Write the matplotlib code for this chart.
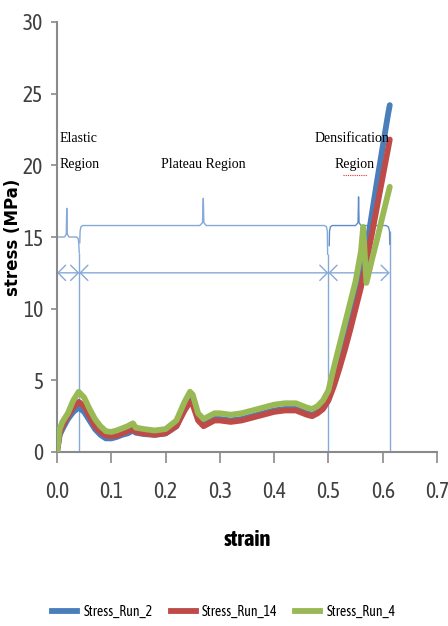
import matplotlib
matplotlib.use("Agg")
import matplotlib.pyplot as plt
from matplotlib.lines import Line2D

# ---------------- data ----------------
strain = [0.0, 0.005, 0.01, 0.02, 0.03, 0.04, 0.05, 0.06, 0.07, 0.08, 0.09, 0.10,
          0.11, 0.12, 0.13, 0.14, 0.145, 0.16, 0.18, 0.20, 0.22, 0.235, 0.245, 0.25,
          0.26, 0.27, 0.28, 0.29, 0.30, 0.32, 0.34, 0.36, 0.38, 0.40, 0.42, 0.44,
          0.46, 0.47, 0.48, 0.49, 0.50]
stress_run_2_plateau = [0.0, 1.2, 1.6, 2.3, 2.8, 3.1, 2.8, 2.2, 1.6, 1.2, 0.95, 0.95,
                        1.05, 1.2, 1.3, 1.5, 1.35, 1.25, 1.2, 1.3, 1.8, 3.0, 3.8, 3.6,
                        2.3, 1.9, 2.1, 2.3, 2.3, 2.2, 2.3, 2.5, 2.7, 2.9, 3.0, 3.0,
                        2.7, 2.6, 2.8, 3.2, 4.0]
stress_run_14_plateau = [0.0, 1.3, 1.8, 2.5, 3.1, 3.5, 3.2, 2.5, 1.8, 1.4, 1.15, 1.1,
                         1.15, 1.3, 1.45, 1.6, 1.4, 1.3, 1.2, 1.3, 1.8, 2.9, 3.5, 3.3,
                         2.2, 1.8, 2.0, 2.2, 2.2, 2.1, 2.2, 2.4, 2.6, 2.8, 2.9, 2.9,
                         2.6, 2.5, 2.7, 3.0, 3.6]
stress_run_4_plateau = [0.0, 1.6, 2.1, 2.7, 3.6, 4.2, 3.8, 3.0, 2.3, 1.8, 1.45, 1.4,
                        1.5, 1.65, 1.8, 2.0, 1.7, 1.6, 1.5, 1.6, 2.2, 3.5, 4.2, 4.0,
                        2.7, 2.3, 2.5, 2.7, 2.7, 2.6, 2.7, 2.9, 3.1, 3.3, 3.4, 3.4,
                        3.1, 3.0, 3.2, 3.6, 4.3]

dens_strain = [0.51, 0.52, 0.53, 0.54, 0.55, 0.56, 0.57, 0.58, 0.59, 0.60, 0.61, 0.613]
stress_run_2_dens = [5.2, 6.5, 8.0, 9.5, 10.8, 12.1, 14.2, 16.6, 19.0, 21.3, 23.6, 24.2]
stress_run_14_dens = [4.6, 5.8, 7.1, 8.5, 10.0, 11.5, 13.3, 15.2, 17.2, 19.2, 21.2, 21.8]
dens_strain_4 = [0.51, 0.52, 0.53, 0.54, 0.55, 0.56, 0.564, 0.570, 0.58, 0.59, 0.60, 0.613]
stress_run_4_dens = [5.9, 7.4, 8.9, 10.4, 11.9, 14.0, 15.7, 11.8, 13.4, 14.9, 16.5, 18.5]

series_names = ["Stress_Run_2", "Stress_Run_14", "Stress_Run_4"]
series_colors = ["#4a7ebb", "#be4b48", "#98b954"]

x_ticks = [0.0, 0.1, 0.2, 0.3, 0.4, 0.5, 0.6, 0.7]
y_ticks = [0, 5, 10, 15, 20, 25, 30]

# region boundaries (annotation)
region_bounds = [0.041, 0.5, 0.613]

# ---------------- figure ----------------
cond = ["Asap Condensed", "DejaVu Sans"]
fig = plt.figure(figsize=(4.48, 6.26), dpi=100)
ax = fig.add_axes([57 / 448, 1 - 452 / 626, 380 / 448, 430 / 626])

xs = [strain + dens_strain, strain + dens_strain, strain + dens_strain_4]
ys = [stress_run_2_plateau + stress_run_2_dens,
      stress_run_14_plateau + stress_run_14_dens,
      stress_run_4_plateau + stress_run_4_dens]
for x, y, c in zip(xs, ys, series_colors):
    ax.plot(x, y, color=c, lw=4.2, solid_capstyle="round", solid_joinstyle="round", zorder=3)

ax.set_xlim(0, 0.7)
ax.set_ylim(0, 30)
ax.set_xticks(x_ticks)
ax.set_xticklabels([f"{v:.1f}" for v in x_ticks], fontsize=15.5, color="#404040", family=cond)
ax.set_yticks(y_ticks)
ax.set_yticklabels([str(v) for v in y_ticks], fontsize=15.5, color="#404040", family=cond)
ax.tick_params(axis="x", direction="out", length=8, width=1.2, color="#8a8a8a", pad=13)
ax.tick_params(axis="y", direction="out", length=4, width=1.2, color="#8a8a8a", pad=6)
for s in ["top", "right"]:
    ax.spines[s].set_visible(False)
for s in ["left", "bottom"]:
    ax.spines[s].set_color("#8a8a8a")
    ax.spines[s].set_linewidth(1.5)

ax.set_xlabel("strain", fontweight="bold", fontsize=16, family=cond)
ax.xaxis.set_label_coords(0.5, -0.18)
ax.set_ylabel("stress (MPa)", fontweight="bold", fontsize=12)
ax.yaxis.set_label_coords(-0.092, 0.5)

# ---------------- annotations ----------------
ac = "#86a9d6"
ax.vlines(region_bounds, 0, [13.9, 13.8, 15.4], color=ac, lw=1.0, zorder=2)

elastic_brace = ([0.0, 0.014, 0.017, 0.018, 0.019, 0.022, 0.036, 0.039, 0.040, 0.041],
                 [15.0, 15.0, 15.2, 17.0, 15.2, 15.0, 15.0, 14.9, 14.6, 13.9])
plateau_brace = ([0.042, 0.0425, 0.044, 0.047, 0.263, 0.268, 0.2695, 0.2705, 0.275, 0.493, 0.4965, 0.498, 0.4985],
                 [14.6, 15.4, 15.7, 15.8, 15.8, 16.0, 17.7, 16.0, 15.8, 15.8, 15.7, 15.4, 13.8])
dens_brace = ([0.5015, 0.502, 0.5035, 0.507, 0.550, 0.5545, 0.5555, 0.5565, 0.560, 0.606, 0.6105, 0.6125, 0.613],
              [14.4, 15.4, 15.7, 15.8, 15.8, 16.0, 17.8, 16.0, 15.8, 15.8, 15.7, 15.4, 14.5])
ax.plot(*elastic_brace, color=ac, lw=1.0, zorder=2)
ax.plot(*plateau_brace, color=ac, lw=1.0, zorder=2)
ax.plot(*dens_brace, color="#5f8cc6", lw=1.0, zorder=2)

arrow_y = 12.5
edges = [0.0] + region_bounds
for a, b in zip(edges[:-1], edges[1:]):
    ax.annotate("", xy=(b, arrow_y), xytext=(a, arrow_y),
                arrowprops=dict(arrowstyle="<->,head_length=0.55,head_width=0.55",
                                color=ac, lw=1.0, shrinkA=0, shrinkB=0), zorder=2)

serif = "Liberation Serif"
ax.text(0.004, 21.6, "Elastic", family=serif, fontsize=10, ha="left", va="baseline")
ax.text(0.004, 19.8, "Region", family=serif, fontsize=10, ha="left", va="baseline")
ax.text(0.27, 19.8, "Plateau Region", family=serif, fontsize=10, ha="center", va="baseline")
ax.text(0.543, 21.6, "Densification", family=serif, fontsize=10, ha="center", va="baseline")
ax.text(0.548, 19.8, "Region", family=serif, fontsize=10, ha="center", va="baseline")
ax.plot([0.527, 0.571], [19.35, 19.35], color="#e03030", lw=0.8, ls=(0, (1, 1)))

# ---------------- legend ----------------
handles = [Line2D([], [], color=c, lw=4.2) for c in series_colors]
fig.legend(handles, series_names, loc="center", bbox_to_anchor=(0.5, 1 - 612 / 626),
           ncol=3, frameon=False, prop=dict(size=10, family=cond),
           handlelength=1.8, handletextpad=0.45, columnspacing=1.3)

fig.savefig("out.png", dpi=100)
